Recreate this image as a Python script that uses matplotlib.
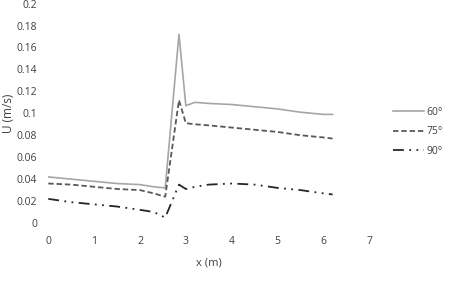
import numpy as np
import matplotlib
matplotlib.use('Agg')
import matplotlib.pyplot as plt

plt.rcParams['font.family'] = ['Open Sans', 'DejaVu Sans']

# positions along the channel (m)
x = [0, 0.5, 1.0, 1.5, 2.0, 2.3, 2.55, 2.85, 3.0, 3.2, 3.5, 4.0, 4.5, 5.0, 5.5, 6.0, 6.2]

u_60 = [0.042, 0.040, 0.038, 0.036, 0.035, 0.033, 0.032, 0.172, 0.107, 0.110, 0.109,
        0.108, 0.106, 0.104, 0.101, 0.099, 0.099]
u_75 = [0.036, 0.035, 0.033, 0.031, 0.030, 0.027, 0.024, 0.112, 0.091, 0.090, 0.089,
        0.087, 0.085, 0.083, 0.080, 0.078, 0.077]
u_90 = [0.022, 0.019, 0.017, 0.015, 0.012, 0.010, 0.005, 0.035, 0.031, 0.033, 0.035,
        0.036, 0.035, 0.032, 0.030, 0.027, 0.026]

labels = ['60°', '75°', '90°']
xticks = np.arange(0, 8, 1)
yticks = np.arange(0, 0.21, 0.02)
ytick_labels = ['0', '0.02', '0.04', '0.06', '0.08', '0.1', '0.12', '0.14', '0.16', '0.18', '0.2']

txt = '#404040'
fig = plt.figure(figsize=(4.5, 2.82), dpi=100)
ax = fig.add_axes([0.1073, 0.2092, 0.7133, 0.778])

ax.plot(x, u_60, color='#a6a6a6', linewidth=1.2, label=labels[0])
ax.plot(x, u_75, color='#595959', linewidth=1.3, dashes=(3, 1.6), label=labels[1])
ax.plot(x, u_90, color='#262626', linewidth=1.3, dashes=(6, 3, 1, 3, 1, 3), label=labels[2])

ax.set_xlim(0, 7)
ax.set_ylim(0, 0.2)
ax.set_xticks(xticks)
ax.set_yticks(yticks)
ax.set_yticklabels(ytick_labels)
ax.tick_params(length=0, labelsize=7.5, labelcolor=txt)
ax.tick_params(axis='y', pad=8)
ax.tick_params(axis='x', pad=9)
for s in ax.spines.values():
    s.set_visible(False)

ax.set_xlabel('x (m)', fontsize=8, color=txt, labelpad=8)
ax.set_ylabel('U (m/s)', fontsize=8.5, color=txt, labelpad=1)

fig.legend(loc='upper left', bbox_to_anchor=(0.865, 0.635), frameon=False,
           fontsize=7.5, labelcolor=txt, handlelength=2.9, handletextpad=0.3,
           labelspacing=0.8, borderaxespad=0)

fig.savefig('out.png', dpi=100)
